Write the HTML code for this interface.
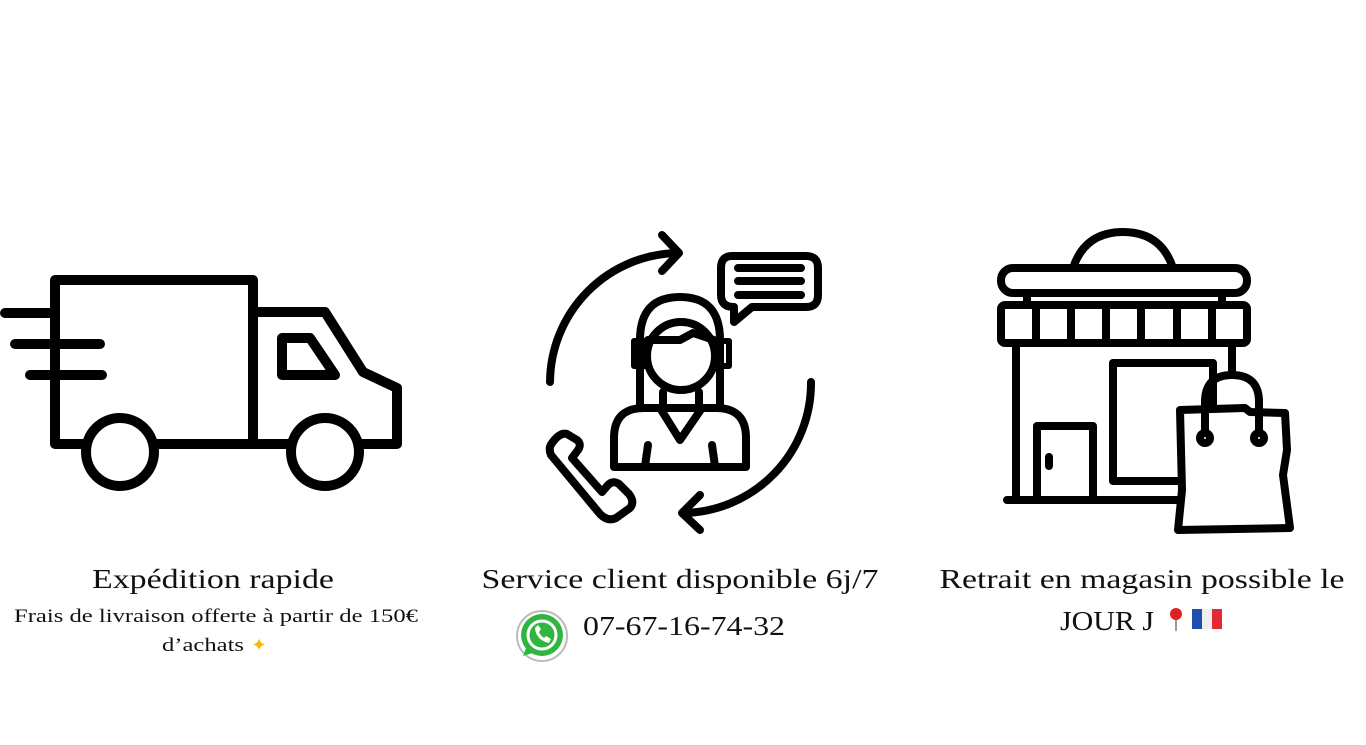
<!DOCTYPE html>
<html><head><meta charset="utf-8"><style>html,body{margin:0;padding:0;background:#fff}svg{display:block}</style></head>
<body>
<svg width="1366" height="745" viewBox="0 0 1366 745" xmlns="http://www.w3.org/2000/svg">
<g fill="none" stroke="#000" stroke-width="10" stroke-linecap="round" stroke-linejoin="round">
<!-- truck -->
<rect x="55" y="280" width="198" height="164"/>
<path d="M253,312 H325 L363,372 L397,388 V444 H253"/>
<path d="M282,338 H310 L335,375 H282 Z"/>
<circle cx="120" cy="452" r="34" fill="#fff"/>
<circle cx="325" cy="452" r="34" fill="#fff"/>
<line x1="5" y1="313" x2="55" y2="313"/>
<line x1="15" y1="344" x2="100" y2="344"/>
<line x1="30" y1="375" x2="102" y2="375"/>
<!-- agent -->
<g stroke-width="8">
<path d="M550,382 A130,130 0 0 1 678,253"/>
<path d="M662,235 L679,253 L662,271"/>
<path d="M811,382 A130,130 0 0 1 684,513"/>
<path d="M700,495 L682,513 L700,530"/>
<path d="M732,256 H806 Q818,256 818,268 V295 Q818,307 806,307 H752 L734,322 L734,307 Q721,307 721,295 V268 Q721,256 732,256 Z"/>
<path d="M738,268 H801 M738,281 H801 M738,295 H801"/>
<path d="M640,408 V340 Q640,297 680,297 Q720,297 720,340 V408"/>
<circle cx="681" cy="356" r="34" fill="#fff"/>
<rect x="634" y="341" width="12" height="25" stroke-width="6"/>
<rect x="717" y="341" width="12" height="25" stroke-width="6"/>
<path d="M648,340 H680 L693,333 L714,340"/>
<path d="M614,467 V438 Q614,408 644,408 H716 Q746,408 746,438 V467 Z" fill="#fff"/>
<path d="M663,392 V408 M699,392 V408"/>
<path d="M660,408 L680,440 L702,408"/>
<path d="M648,445 L645,466 M712,445 L715,466"/>
<path d="M552,443 Q548,448 551,455 L600,514 Q608,522 616,518 L630,508 Q635,502 629,494 L619,484 Q613,480 608,485 L602,492 L572,458 L578,450 Q582,444 577,440 L567,434 Q560,432 552,443 Z"/>
</g>
<!-- store -->
<g stroke-width="8">
<path d="M1073,268 Q1085,232 1123,232 Q1161,232 1173,268"/>
<rect x="1001" y="268" width="246" height="25" rx="12"/>
<path d="M1027,293 V305 M1222,293 V305"/>
<rect x="1001" y="305" width="246" height="38" rx="4"/>
<path d="M1036,305 V343 M1071,305 V343 M1106,305 V343 M1141,305 V343 M1177,305 V343 M1212,305 V343"/>
<path d="M1016,343 V500 M1007,500 H1178 M1232,343 V372"/>
<rect x="1113" y="363" width="100" height="118"/>
<rect x="1037" y="426" width="56" height="74"/>
<path d="M1049,457 V466"/>
<path d="M1180,410 L1245,408 L1250,412 L1285,413 L1287,450 L1283,475 L1290,528 L1178,530 L1182,490 Z" fill="#fff"/>
<path d="M1205,435 V402 Q1205,375 1232,375 Q1259,375 1259,402 V435"/>
<circle cx="1205" cy="438" r="5" fill="#fff"/>
<circle cx="1259" cy="438" r="5" fill="#fff"/>
</g>
</g>
<!-- whatsapp -->
<circle cx="542" cy="636" r="25" fill="#fff" stroke="#bbb" stroke-width="2"/>
<circle cx="542" cy="635" r="21" fill="#2fb540"/>
<path d="M523,656 L528,643 L536,652 Z" fill="#2fb540"/>
<circle cx="542" cy="635" r="14" fill="none" stroke="#fff" stroke-width="3"/>
<path d="M535,628 Q536,640 549,643 L551,639 L546,636 L544,638 Q540,635 539,632 L541,629 L538,625 Z" fill="#fff"/>
<g font-family="Liberation Serif, serif" fill="#111" text-anchor="middle">
<text x="213" y="588" font-size="27" textLength="242" lengthAdjust="spacingAndGlyphs">Expédition rapide</text>
<text x="216" y="622" font-size="19" textLength="404" lengthAdjust="spacingAndGlyphs">Frais de livraison offerte à partir de 150€</text>
<text x="203" y="651" font-size="19" textLength="82" lengthAdjust="spacingAndGlyphs">d’achats</text>
<text x="259" y="651" font-size="18" fill="#f5b700">✦</text>
<text x="680" y="588" font-size="27" textLength="397" lengthAdjust="spacingAndGlyphs">Service client disponible 6j/7</text>
<text x="684" y="635" font-size="27" textLength="202" lengthAdjust="spacingAndGlyphs">07-67-16-74-32</text>
<text x="1142" y="588" font-size="27" textLength="405" lengthAdjust="spacingAndGlyphs">Retrait en magasin possible le</text>
<text x="1107" y="630" font-size="27" textLength="94" lengthAdjust="spacingAndGlyphs">JOUR J</text>
</g>
<circle cx="1176" cy="614" r="6" fill="#d22"/>
<line x1="1176" y1="620" x2="1176" y2="631" stroke="#999" stroke-width="2"/>
<rect x="1192" y="609" width="10" height="20" fill="#1e4fb0"/>
<rect x="1202" y="609" width="10" height="20" fill="#eee"/>
<rect x="1212" y="609" width="10" height="20" fill="#e02a36"/>
</svg>
</body></html>
